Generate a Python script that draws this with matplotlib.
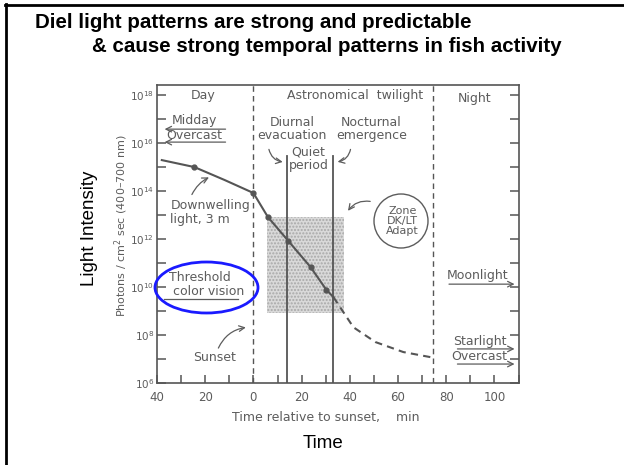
import matplotlib
matplotlib.use('Agg')
import matplotlib.pyplot as plt
from matplotlib.patches import Rectangle, Ellipse
from matplotlib.ticker import NullLocator
from matplotlib.lines import Line2D

# ---------------- data ----------------
curve_minutes = [-38, -24.5, -12, 0, 6, 14.5, 23.7, 30.3, 33.2]
curve_photons = [1.95e15, 1.0e15, 2.9e14, 8.3e13, 8.3e12, 8.3e11, 6.8e10, 7.6e9, 3.8e9]
marker_minutes = [-24.5, 0, 6, 14.5, 23.7, 30.3]
marker_photons = [1.0e15, 8.3e13, 8.3e12, 8.3e11, 6.8e10, 7.6e9]
extrap_minutes = [33.2, 41.5, 50.6, 62.2, 73.4]
extrap_photons = [3.8e9, 2.1e8, 5.1e7, 1.95e7, 1.2e7]
period_bounds = [0, 74.5]          # sunset, end of astronomical twilight
quiet_bounds = [14, 33]            # diurnal evacuation, nocturnal emergence
quiet_top = 3.0e15
zone_minutes = [5.5, 37.5]
zone_photons = [8.3e8, 8.3e12]
xtick_vals = [-40, -30, -20, -10, 0, 10, 20, 30, 40, 50, 60, 70, 80, 90, 100, 110]
xtick_labels = ['40', '', '20', '', '0', '', '20', '', '40', '', '60', '', '80', '', '100', '']
ytick_exps = [6, 7, 8, 9, 10, 11, 12, 13, 14, 15, 16, 17, 18]

GRAY = '#5c5c5c'
LINE = '#555555'
FONT = 'DejaVu Sans'
FS = 9

W, H = 624, 465
fig = plt.figure(figsize=(W / 100, H / 100), dpi=100)

# slide frame (top and left edges visible)
fig.add_artist(Line2D([5 / W, 1], [1 - 5 / H, 1 - 5 / H], transform=fig.transFigure, color='black', lw=2))
fig.add_artist(Line2D([6 / W, 6 / W], [0, 1 - 4 / H], transform=fig.transFigure, color='black', lw=2))

# slide title
fig.text(35 / W, 1 - 22 / H, 'Diel light patterns are strong and predictable',
         fontsize=14.8, fontweight='bold', family='Liberation Sans', va='center', ha='left')
fig.text(92 / W, 1 - 46 / H, '& cause strong temporal patterns in fish activity',
         fontsize=14.8, fontweight='bold', family='Liberation Sans', va='center', ha='left')

ax = fig.add_axes([157 / W, 1 - 383 / H, 362 / W, 298 / H])
ax.set_yscale('log')
ax.set_xlim(-40, 110.2)
ax.set_ylim(1e6, 10 ** 18.42)

for s in ax.spines.values():
    s.set_color(LINE)
    s.set_linewidth(1.2)

ax.set_xticks(xtick_vals)
ax.set_xticklabels(xtick_labels)
ax.set_yticks([10.0 ** e for e in ytick_exps])
ax.set_yticklabels([('$10^{%d}$' % e) if e % 2 == 0 else '' for e in ytick_exps])
ax.yaxis.set_minor_locator(NullLocator())
ax.xaxis.set_minor_locator(NullLocator())
ax.tick_params(axis='both', direction='in', color=LINE, width=1.1, labelcolor=GRAY)
ax.tick_params(axis='x', length=6, labelsize=8.5, pad=6)
ax.tick_params(axis='y', length=6.5, labelsize=7.5, pad=2, right=True)
for lab in ax.get_xticklabels() + ax.get_yticklabels():
    lab.set_family(FONT)

# stippled zone
ax.add_patch(Rectangle((zone_minutes[0], zone_photons[0]), zone_minutes[1] - zone_minutes[0],
                       zone_photons[1] - zone_photons[0], facecolor='#d9d9d9', edgecolor='#a8a8a8',
                       hatch='.....', lw=0, zorder=1))

# period boundaries
for xb in period_bounds:
    ax.axvline(xb, color=LINE, lw=1.0, ls=(0, (4, 3)), zorder=2)
for xq in quiet_bounds:
    ax.plot([xq, xq], [1e6, quiet_top], color=LINE, lw=1.3, zorder=2)

# light curve
ax.plot(curve_minutes, curve_photons, color=LINE, lw=1.5, zorder=3)
ax.plot(extrap_minutes, extrap_photons, color=LINE, lw=1.5, ls=(0, (3.5, 2.5)), zorder=3)
ax.plot(marker_minutes, marker_photons, 'o', color=LINE, ms=3.5, zorder=4)

tkw = dict(color=GRAY, fontsize=FS, family=FONT)
arr = dict(arrowstyle='->', color=GRAY, lw=0.9)

ax.text(-20.7, 10 ** 18.0, 'Day', ha='center', va='center', **tkw)
ax.text(42, 10 ** 18.0, 'Astronomical  twilight', ha='center', va='center', **tkw)
ax.text(91.7, 10 ** 17.85, 'Night', ha='center', va='center', **tkw)

ax.text(-24.5, 10 ** 16.96, 'Midday', ha='center', va='center', **tkw)
ax.text(-24.5, 10 ** 16.33, 'Overcast', ha='center', va='center', **tkw)
for yy in (10 ** 16.58, 10 ** 16.04):
    ax.annotate('', xy=(-38, yy), xytext=(-10.4, yy), arrowprops=arr)

ax.text(16, 10 ** 16.58, 'Diurnal\nevacuation', ha='center', va='center', linespacing=1.0, **tkw)
ax.annotate('', xy=(13.3, 10 ** 15.2), xytext=(6.2, 10 ** 15.85),
            arrowprops=dict(connectionstyle='arc3,rad=0.4', **arr))
ax.text(49, 10 ** 16.58, 'Nocturnal\nemergence', ha='center', va='center', linespacing=1.0, **tkw)
ax.annotate('', xy=(33.8, 10 ** 15.2), xytext=(40.5, 10 ** 15.85),
            arrowprops=dict(connectionstyle='arc3,rad=-0.4', **arr))
ax.text(22.8, 10 ** 15.34, 'Quiet\nperiod', ha='center', va='center', linespacing=1.0, **tkw)

ax.text(-34.4, 10 ** 13.1, 'Downwelling\nlight, 3 m', ha='left', va='center', linespacing=1.1, **tkw)
ax.annotate('', xy=(-17.4, 10 ** 14.62), xytext=(-26, 10 ** 13.75),
            arrowprops=dict(connectionstyle='arc3,rad=-0.2', **arr))

ax.text(-35, 10 ** 10.1, 'Threshold\n color vision', ha='left', va='center', linespacing=1.1, **tkw)
ax.plot([-37, -6.2], [10 ** 9.5, 10 ** 9.5], color=GRAY, lw=0.9)

ax.text(-16, 10 ** 7.08, 'Sunset', ha='center', va='center', **tkw)
ax.annotate('', xy=(-2, 10 ** 8.33), xytext=(-15, 10 ** 7.35),
            arrowprops=dict(connectionstyle='arc3,rad=-0.3', **arr))

# Zone DK/LT Adapt circle
circ = Ellipse(((401 - 157) / 362, (383 - 221) / 298), 54 / 362, 54 / 298, transform=ax.transAxes,
               facecolor='white', edgecolor=GRAY, lw=1.0, zorder=5)
ax.add_patch(circ)
ax.text(61.8, 10 ** 12.75, 'Zone\nDK/LT\nAdapt', ha='center', va='center', linespacing=1.05,
        zorder=6, color=GRAY, fontsize=8, family=FONT)
ax.annotate('', xy=(38.6, 10 ** 13.08), xytext=(49.6, 10 ** 13.55),
            arrowprops=dict(connectionstyle='arc3,rad=0.35', **arr))

ax.text(93, 10 ** 10.5, 'Moonlight', ha='center', va='center', **tkw)
ax.annotate('', xy=(109.5, 10 ** 10.12), xytext=(80, 10 ** 10.12), arrowprops=arr)
ax.text(93.8, 10 ** 7.71, 'Starlight', ha='center', va='center', **tkw)
ax.annotate('', xy=(109.5, 10 ** 7.42), xytext=(83.5, 10 ** 7.42), arrowprops=arr)
ax.text(93.8, 10 ** 7.12, 'Overcast', ha='center', va='center', **tkw)
ax.annotate('', xy=(109.5, 10 ** 6.79), xytext=(83.5, 10 ** 6.79), arrowprops=arr)

# blue highlight ellipse
ax.add_patch(Ellipse(((206.5 - 157) / 362, (383 - 287.5) / 298), 103 / 362, 51 / 298,
                     transform=ax.transAxes, fill=False, edgecolor='#1a1aff', lw=2.0,
                     clip_on=False, zorder=7))

# axis labels
fig.text(121 / W, 1 - 226 / H, 'Photons / cm$^2$ sec (400\u2013700 nm)', rotation=90,
         ha='center', va='center', color=GRAY, fontsize=8, family=FONT)
fig.text(326 / W, 1 - 417 / H, 'Time relative to sunset,    min', ha='center', va='center',
         color=GRAY, fontsize=9, family=FONT)
fig.text(90 / W, 1 - 228 / H, 'Light Intensity', rotation=90, ha='center', va='center',
         fontsize=13.5, family='Liberation Sans')
fig.text(323 / W, 1 - 443 / H, 'Time', ha='center', va='center', fontsize=13.5, family='Liberation Sans')

fig.savefig('out.png', dpi=100)
